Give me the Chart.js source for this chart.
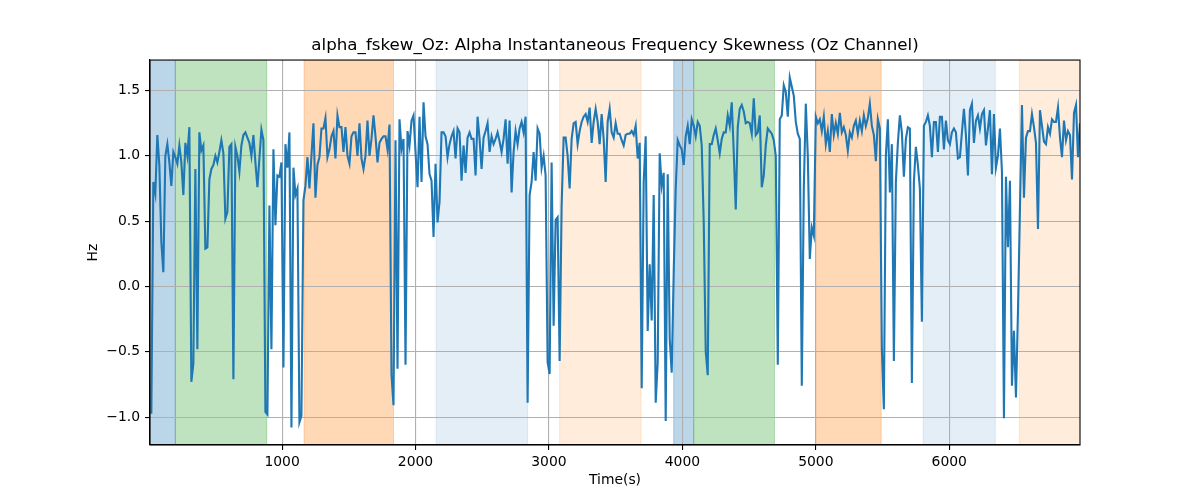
<!DOCTYPE html>
<html>
<head>
<meta charset="utf-8">
<script src="https://cdn.jsdelivr.net/npm/chart.js@4/dist/chart.umd.min.js"></script>
<style>
  body { margin: 0; background: #fff; }
</style>
</head>
<body>
<canvas id="skewChart" width="1200" height="500"></canvas>
<script>
// sample times: one window every 15 s starting at 20 s
const startTime = 20;
const timeStep = 15;

// alpha instantaneous frequency skewness, Oz channel (Hz)
const skewValues = [
  -0.975, 0.80, 0.71, 1.16, 0.93, 0.34, 0.11, 1.0, 1.09, 0.95,
  0.77, 1.03, 0.99, 0.94, 1.08, 0.95, 0.70, 1.10, 1.0, 1.22,
  -0.73, -0.59, 0.90, -0.48, 1.18, 1.04, 1.08, 0.29, 0.30, 0.82,
  0.90, 0.93, 1.0, 0.95, 1.03, 1.12, 1.02, 0.52, 0.57, 1.07,
  1.09, -0.71, 1.07, 1.0, 0.88, 1.08, 1.16, 1.18, 1.14, 1.10,
  1.0, 1.16, 0.95, 0.76, 0.98, 1.20, 1.12,

  -0.96, -0.98, 0.62, -0.48, 1.05, 0.47, 0.85, 0.84, 0.95, -0.62,
  1.09, 0.91, 1.18, -1.08, 0.91, 0.70, 0.75, -1.04, -0.99, 0.66,
  0.77, 0.99, 0.75, 1.0, 1.25, 0.68, 0.93, 0.99, 1.21, 1.21,
  1.29, 0.99, 1.05, 1.15, 1.19, 0.98, 1.31, 1.22, 1.22, 1.03,
  1.22, 1.0, 0.94, 1.15, 1.18, 1.18, 1.0, 1.25, 0.98, 0.90,
  1.0, 1.27, 1.0, 1.13, 1.31, 1.15, 0.95, 1.10,

  1.13, 1.15, 1.15, 1.05, 1.24, -0.68, -0.91, 1.12, -0.63, 1.28,
  1.05, 1.13, -0.60, 1.19, 1.08, 1.27, 1.31, 1.03, 0.76, 1.30,
  0.80, 1.41, 1.15, 1.09, 0.86, 0.81, 0.38, 0.94, 0.49, 0.65,
  1.18, 1.18, 1.15, 0.99, 1.09, 1.15, 1.19, 0.98, 1.21, 1.18,
  0.81, 1.08, 0.87, 1.14, 1.18, 1.13, 1.13, 0.85, 1.30, 1.13,
  0.90, 1.14, 1.19, 1.25, 1.03, 1.15, 1.09,

  1.13, 1.18, 1.11, 1.03, 1.13, 1.28, 0.94, 1.27, 0.72, 1.03,
  1.19, 1.09, 1.21, 1.26, 1.18, 1.30, -0.89, 0.70, 0.80, 1.03,
  0.81, 1.21, 1.17, 0.91, 1.0, 0.85, -0.58, -0.67, 0.95, -0.30,
  0.51, 0.53, -0.57, 0.62, 1.14, 1.14, 1.0, 0.75, 1.13, 1.25,
  1.26, 1.09, 1.19, 1.26, 1.30, 1.32, 1.26, 1.37, 1.10, 1.26,
  1.36, 1.26, 1.09, 1.32, 1.13, 0.80, 1.26, 1.36,

  1.18, 1.14, 1.25, 1.17, 1.17, 1.12, 1.08, 1.16, 1.17, 1.17,
  1.19, 1.16, 1.23, 0.98, 1.10, -0.78, 0.80, 1.15, -0.34, 0.17,
  -0.26, 0.70, -0.89, -0.58, 1.02, 0.77, 0.87, -1.03, 0.86, -0.40,
  -0.66, 0.11, 0.75, 1.12, 1.08, 1.05, 0.93, 1.15, 1.23, 1.09,
  1.28, 1.23, 1.15, 1.26, 1.23, 1.08, 0.49, -0.50, -0.68, 1.09,
  1.09, 1.16, 1.21, 1.12, 1.02, 1.13, 1.18,

  1.18, 1.31, 1.23, 1.41, 1.03, 0.59, 1.22, 1.36, 1.39, 1.34,
  1.25, 1.26, 1.25, 1.17, 1.44, 1.16, 1.18, 1.31, 0.76, 0.85,
  1.08, 1.21, 1.19, 1.17, 1.12, 1.0, -0.60, 1.28, 1.31, 1.54,
  1.49, 1.30, 1.60, 1.53, 1.46, 1.26, 1.17, 1.13, -0.76, 0.75,
  1.40, 1.0, 0.21, 0.45, 0.39, 1.30, 1.25, 1.28, 1.19, 1.30,
  1.09, 1.19, 1.03, 1.32, 1.16, 1.25, 1.17, 1.33,

  1.18, 1.22, 1.16, 1.04, 1.18, 1.14, 1.23, 1.27, 1.17, 1.27,
  1.19, 1.31, 1.23, 1.29, 1.40, 1.23, 1.16, 0.96, 1.28, 1.21,
  -0.48, -0.94, 1.0, 1.28, 0.72, 1.09, -0.57, 0.80, 1.10, 1.31,
  1.18, 0.84, 1.13, 1.22, 1.21, -0.74, 0.80, 1.07, 0.93, 0.75,
  -0.27, 1.23, 1.26, 1.31, 1.23, 0.99, 1.26, 1.26, 1.03, 1.30,
  1.30, 1.05, 1.27, 1.12, 1.09, 1.18, 1.21,

  1.18, 0.98, 0.99, 1.18, 1.36, 1.16, 0.85, 1.35, 1.40, 1.10,
  1.27, 1.31, 1.21, 1.32, 1.35, 1.08, 1.21, 1.35, 0.86, 1.32,
  0.91, 1.0, 1.21, 0.88, -1.01, 0.84, 0.30, 0.81, -0.76, -0.34,
  -0.85, -0.2, 0.6, 1.39, 0.68, 1.14, 1.19, 1.19, 1.32, 1.22,
  1.10, 0.44, 1.35, 1.23, 1.11, 1.09, 1.22, 1.17, 1.28, 1.26,
  1.26, 1.37, 1.14, 0.99, 1.27, 1.12, 1.19, 1.16, 0.82, 1.33,
  1.39, 0.99, 1.25
];

const xTicks = [1000, 2000, 3000, 4000, 5000, 6000];
const yTicks = [-1.0, -0.5, 0.0, 0.5, 1.0, 1.5];

// shaded segments (s)
const regionStart = [0, 200, 1165, 2155, 3080, 3935, 4085, 5000, 5805, 6525];
const regionEnd = [200, 885, 1835, 2840, 3690, 4085, 4690, 5490, 6345, 7000];
const regionKind = ['blue', 'green', 'orange', 'lightblue', 'lightorange',
                    'blue', 'green', 'orange', 'lightblue', 'lightorange'];

const kindColors = {
  blue: 'rgba(31, 119, 180, 0.3)',
  green: 'rgba(44, 160, 44, 0.3)',
  orange: 'rgba(255, 127, 14, 0.3)',
  lightblue: 'rgba(31, 119, 180, 0.12)',
  lightorange: 'rgba(255, 127, 14, 0.15)'
};

const points = skewValues.map((v, i) => ({ x: startTime + i * timeStep, y: v }));

const regionShading = {
  id: 'regionShading',
  beforeDraw(chart) {
    const { ctx, chartArea, scales: { x } } = chart;
    ctx.save();
    ctx.beginPath();
    ctx.rect(chartArea.left, chartArea.top, chartArea.width, chartArea.height);
    ctx.clip();
    regionStart.forEach((s, i) => {
      const x0 = x.getPixelForValue(s);
      const x1 = x.getPixelForValue(regionEnd[i]);
      ctx.fillStyle = kindColors[regionKind[i]];
      ctx.fillRect(x0, chartArea.top, x1 - x0, chartArea.height);
      ctx.strokeStyle = kindColors[regionKind[i]];
      ctx.lineWidth = 1;
      ctx.beginPath();
      ctx.moveTo(x0, chartArea.top); ctx.lineTo(x0, chartArea.bottom);
      ctx.moveTo(x1, chartArea.top); ctx.lineTo(x1, chartArea.bottom);
      ctx.stroke();
    });
    ctx.restore();
  }
};

// centre the title over the plot area, like matplotlib does
const titleOverPlot = {
  id: 'titleOverPlot',
  afterLayout(chart) {
    const t = chart.titleBlock;
    if (!t) return;
    t.left = chart.chartArea.left;
    t.right = chart.chartArea.right;
    t.width = t.right - t.left;
  }
};

const frame = {
  id: 'frame',
  afterDraw(chart) {
    const { ctx, chartArea } = chart;
    ctx.save();
    ctx.strokeStyle = '#000';
    ctx.lineWidth = 1.1;
    ctx.strokeRect(chartArea.left, chartArea.top, chartArea.width, chartArea.height);
    ctx.restore();
  }
};

const tickFont = { family: 'DejaVu Sans', size: 13.9 };

new Chart(document.getElementById('skewChart'), {
  type: 'line',
  data: {
    datasets: [{
      data: points,
      borderColor: '#1f77b4',
      borderWidth: 2.1,
      pointRadius: 0,
      tension: 0,
      fill: false
    }]
  },
  options: {
    responsive: false,
    animation: false,
    layout: { padding: { left: 0, right: 120, top: 0, bottom: 0 } },
    plugins: {
      legend: { display: false },
      tooltip: { enabled: false },
      title: {
        display: true,
        text: 'alpha_fskew_Oz: Alpha Instantaneous Frequency Skewness (Oz Channel)',
        color: '#000',
        font: { family: 'DejaVu Sans', size: 16.7, weight: 'normal' },
        padding: { top: 36, bottom: 4 }
      }
    },
    scales: {
      x: {
        type: 'linear',
        min: 10,
        max: 6980,
        afterBuildTicks: s => { s.ticks = xTicks.map(v => ({ value: v })); },
        afterFit: s => { s.height = 55; },
        ticks: {
          color: '#000',
          font: tickFont,
          padding: 4,
          maxRotation: 0,
          callback: v => String(v)
        },
        grid: { color: '#b0b0b0', lineWidth: 1.1, tickColor: '#000', tickLength: 5 },
        border: { color: '#000', width: 1.1 },
        title: {
          display: true,
          text: 'Time(s)',
          color: '#000',
          font: tickFont,
          padding: { top: 11, bottom: 11 }
        }
      },
      y: {
        type: 'linear',
        min: -1.214,
        max: 1.734,
        afterBuildTicks: s => { s.ticks = yTicks.map(v => ({ value: v })); },
        afterFit: s => { s.width = 150; },
        ticks: {
          color: '#000',
          font: tickFont,
          padding: 5,
          callback: v => v.toFixed(1).replace('-', '\u2212')
        },
        grid: { color: '#b0b0b0', lineWidth: 1.1, tickColor: '#000', tickLength: 5 },
        border: { color: '#000', width: 1.1 },
        title: {
          display: true,
          text: 'Hz',
          color: '#000',
          font: tickFont,
          padding: { top: 85, bottom: 0 }
        }
      }
    }
  },
  plugins: [regionShading, titleOverPlot, frame]
});
</script>
</body>
</html>
